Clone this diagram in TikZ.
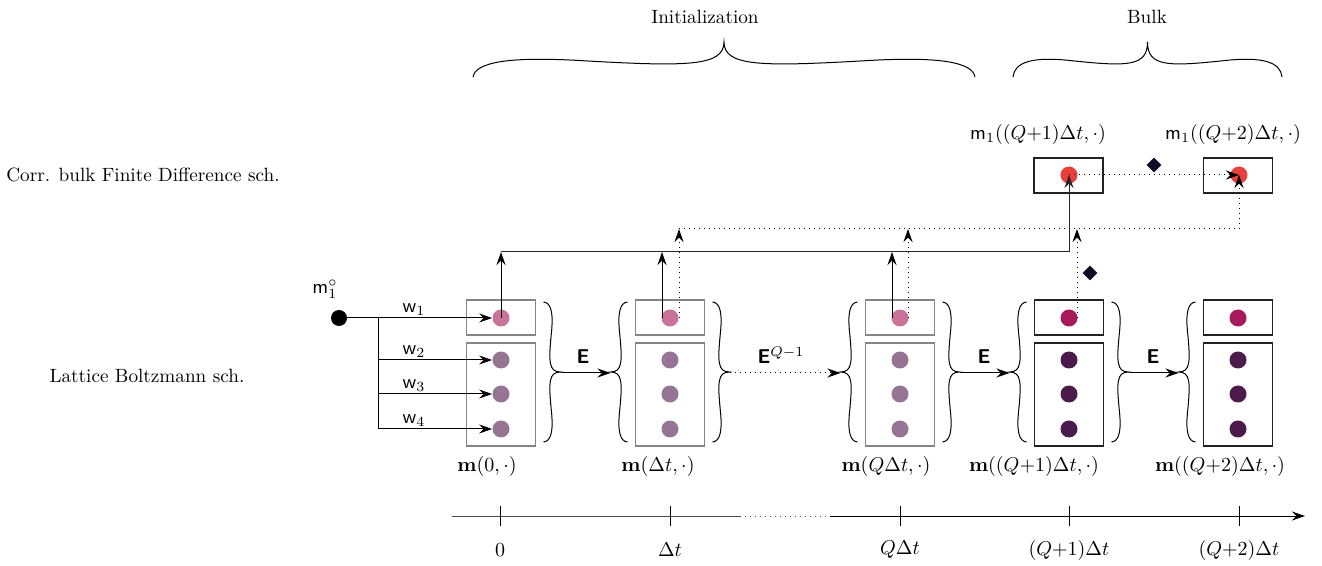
\documentclass[tikz,border=0pt]{standalone}
\usepackage{amsmath}
\usetikzlibrary{arrows.meta,calc,shapes.geometric}
\definecolor{pinkA}{HTML}{C9739B}
\definecolor{mauve}{HTML}{957593}
\definecolor{magA}{HTML}{A61A5C}
\definecolor{dpurp}{HTML}{4B1C4B}
\definecolor{fdred}{HTML}{E8403A}
\definecolor{navy}{HTML}{0B0B26}
\definecolor{initbox}{HTML}{858585}
\definecolor{bulkbox}{HTML}{222222}
% point on a brace: start, end, fraction along, offset
\newcommand\brpt[4]{($(#1)!#3!(#2)!{#4}!90:(#2)$)}
% wavy brace from #1 to #2 with amplitude #3 (tip on the left of the direction)
\newcommand\wavybrace[3]{%
  \draw[line width=0.5pt]
    (#1) .. controls \brpt{#1}{#2}{0.005}{0.42*#3} and \brpt{#1}{#2}{0.07}{0.6*#3}
    .. \brpt{#1}{#2}{0.225}{0.46*#3}
    .. controls \brpt{#1}{#2}{0.425}{0.3*#3} and \brpt{#1}{#2}{0.5}{0.3*#3}
    .. \brpt{#1}{#2}{0.5}{#3}
    .. controls \brpt{#1}{#2}{0.5}{0.3*#3} and \brpt{#1}{#2}{0.575}{0.3*#3}
    .. \brpt{#1}{#2}{0.775}{0.46*#3}
    .. controls \brpt{#1}{#2}{0.93}{0.6*#3} and \brpt{#1}{#2}{0.995}{0.42*#3}
    .. (#2);}
\begin{document}
\begin{tikzpicture}[x=0.5pt,y=-0.5pt,
  dotnode/.style={circle, minimum size=8.5pt, inner sep=0pt},
  sbox/.style={draw, minimum width=34.5pt, minimum height=17.5pt, inner sep=0pt, line width=0.6pt},
  lbox/.style={draw, minimum width=34.5pt, minimum height=51.5pt, inner sep=0pt, line width=0.6pt},
  arr/.style={-{Stealth[length=6.5pt,width=4.5pt,inset=2.2pt]}, line width=0.5pt},
  dotl/.style={dotted, line width=0.5pt},
  dm/.style={diamond, fill=navy, minimum width=7.5pt, minimum height=7.5pt, inner sep=0pt},
  lbl/.style={inner sep=0pt},
  txt/.style={inner sep=0pt, font=\fontsize{9.6pt}{11pt}\selectfont}]
\useasboundingbox (0,0) rectangle (1322,566);

% titles and braces
\node[txt] (init) at (705,17) {Initialization};
\node[txt] (bulk) at (1147,17) {Bulk};
\wavybrace{473,77}{975,77}{17.5pt}
\wavybrace{1013,77}{1282,77}{17.5pt}

% row labels
\node[txt] (fdlab) at (143,175) {Corr. bulk Finite Difference sch.};
\node[txt] (lblab) at (147,376) {Lattice Boltzmann sch.};

% columns
\foreach \n/\x/\bc/\tc/\lc in {1/501/initbox/pinkA/mauve, 2/670/initbox/pinkA/mauve, 3/900/initbox/pinkA/mauve, 4/1069/bulkbox/magA/dpurp, 5/1238/bulkbox/magA/dpurp}{
  \node[sbox, draw=\bc] (s\n) at (\x,317.5) {};
  \node[lbox, draw=\bc] (l\n) at (\x,394.5) {};
  \node[dotnode, fill=\tc] (t\n) at (\x,318) {};
  \node[dotnode, fill=\lc] (a\n) at (\x,360) {};
  \node[dotnode, fill=\lc] (b\n) at (\x,394) {};
  \node[dotnode, fill=\lc] (c\n) at (\x,429) {};
}

% column labels
\node[lbl] (ml1) at (487,467) {$\mathbf{m}(0,\cdot)$};
\node[lbl] (ml2) at (658,467) {$\mathbf{m}(\Delta t,\cdot)$};
\node[lbl] (ml3) at (886,467) {$\mathbf{m}(Q\Delta t,\cdot)$};
\node[lbl] (ml4) at (1034,467) {$\mathbf{m}((Q{+}1)\Delta t,\cdot)$};
\node[lbl] (ml5) at (1220,467) {$\mathbf{m}((Q{+}2)\Delta t,\cdot)$};

% braces around columns
\foreach \n/\x in {1/501,2/670,3/900,4/1069}{
  \wavybrace{\x+42.5,302}{\x+42.5,442}{8.5pt}
  \coordinate (r\n) at (\x+59.5,373);
}
\foreach \n/\x in {2/670,3/900,4/1069,5/1238}{
  \wavybrace{\x-42.5,442}{\x-42.5,302}{8.5pt}
  \coordinate (f\n) at (\x-59.5,373);
}
\draw[arr] (r1) -- (f2);
\draw[arr, dotted] (r2) -- (f3);
\draw[arr] (r3) -- (f4);
\draw[arr] (r4) -- (f5);
\node[lbl] (e1) at (583,357) {\textsf{\textbf{E}}};
\node[lbl] (e2) at (781,355) {\textsf{\textbf{E}}$^{Q-1}$};
\node[lbl] (e3) at (984,357) {\textsf{\textbf{E}}};
\node[lbl] (e4) at (1153,357) {\textsf{\textbf{E}}};

% initial datum
\node[circle, fill=black, minimum size=8pt, inner sep=0pt] (m0) at (339,318) {};
\node[lbl] (m0l) at (325,289) {$\mathsf{m}_1^{\circ}$};
\coordinate (br1) at (378,318);
\coordinate (br2) at (378,360);
\coordinate (br3) at (378,394);
\coordinate (br4) at (378,429);
\draw[arr] (m0) -- (t1);
\draw[line width=0.5pt] (br1) -- (br4);
\draw[arr] (br2) -- (a1);
\draw[arr] (br3) -- (b1);
\draw[arr] (br4) -- (c1);
\node[lbl] (w1) at (414,310) {$\mathsf{w}_1$};
\node[lbl] (w2) at (414,352) {$\mathsf{w}_2$};
\node[lbl] (w3) at (414,386) {$\mathsf{w}_3$};
\node[lbl] (w4) at (414,421) {$\mathsf{w}_4$};

% finite difference boxes
\node[sbox, draw=bulkbox] (fb1) at (1068.5,175.5) {};
\node[sbox, draw=bulkbox] (fb2) at (1238,175.5) {};
\node[dotnode, fill=fdred] (fd1) at (1069,175) {};
\node[dotnode, fill=fdred] (fd2) at (1239,175) {};
\node[lbl] (fl1) at (1038,135) {$\mathsf{m}_1((Q{+}1)\Delta t,\cdot)$};
\node[lbl] (fl2) at (1233,135) {$\mathsf{m}_1((Q{+}2)\Delta t,\cdot)$};

% solid collection line
\coordinate (h1) at (501,252);
\coordinate (h2) at (662,252);
\coordinate (h3) at (892,252);
\coordinate (hE) at (1069,252);
\draw[arr] (t1.center) -- (h1);
\draw[arr] (t2.center -| h2) -- (h2);
\draw[arr] (t3.center -| h3) -- (h3);
\draw[arr, black!85] (h1) -- (hE) -- (fd1.center);

% dotted collection line
\coordinate (d2) at (679,229);
\coordinate (d3) at (908,229);
\coordinate (d4) at (1077,229);
\coordinate (dE) at (1239,229);
\draw[arr, dotl] (t2.center -| d2) -- (d2);
\draw[arr, dotl] (t3.center -| d3) -- (d3);
\draw[arr, dotl] (t4.center -| d4) -- (d4);
\draw[arr, dotl] (d2) -- (dE) -- (fd2.center);
\draw[arr, dotl] (fd1.center) -- (fd2.center);

% diamonds
\node[dm] (dm1) at (1154,165) {};
\node[dm] (dm2) at (1090,273) {};

% time axis
\coordinate (ax0) at (452,516);
\coordinate (axg) at (740,516);
\coordinate (axd) at (830,516);
\coordinate (axe) at (1305,516);
\draw[line width=0.5pt, black!70] (ax0) -- (axg);
\draw[dotl, black!70] (axg) -- (axd);
\draw[arr] (axd) -- (axe);
\foreach \n/\x/\t in {1/500/$0$, 2/670/$\Delta t$, 3/900/$Q\Delta t$, 4/1069/$(Q{+}1)\Delta t$, 5/1239/$(Q{+}2)\Delta t$}{
  \draw[line width=0.5pt] (\x,506) -- (\x,526);
  \node[lbl] (tk\n) at (\x,550) {\t};
}
\end{tikzpicture}
\end{document}
